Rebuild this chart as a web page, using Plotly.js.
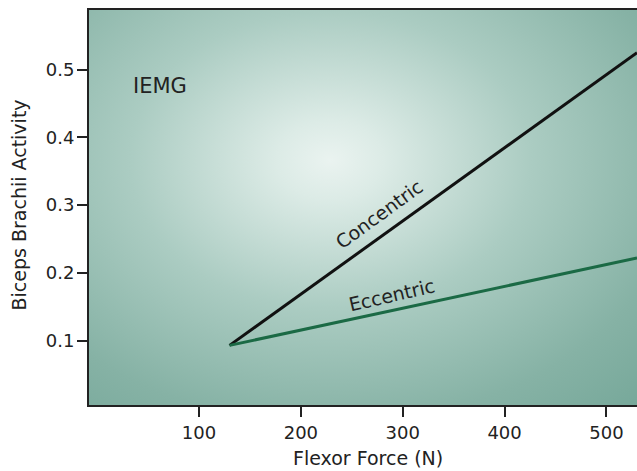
<!DOCTYPE html>
<html>
<head>
<meta charset="utf-8">
<script src="https://cdn.plot.ly/plotly-3.0.1.min.js"></script>
<style>
html,body{margin:0;padding:0;background:#fff;}
#chart{width:637px;height:471px;}
</style>
</head>
<body>
<div id="chart"></div>
<script>
// Data
const flexorForce = [130, 530];
const concentric = [0.093, 0.525];
const eccentric = [0.093, 0.222];
const xTicks = [100, 200, 300, 400, 500];
const yTicks = [0.1, 0.2, 0.3, 0.4, 0.5];

// Radial gradient background for the plot area
function makeBackground() {
  const w = 548, h = 395;
  const c = document.createElement('canvas');
  c.width = w; c.height = h;
  const ctx = c.getContext('2d');
  ctx.fillStyle = '#78a99b';
  ctx.fillRect(0, 0, w, h);
  const cx = 0.44 * w, cy = 0.38 * h;
  ctx.save();
  ctx.translate(cx, cy);
  ctx.scale(1.35, 1);
  const g = ctx.createRadialGradient(0, 0, 0, 0, 0, 330);
  g.addColorStop(0, '#eaf3f0');
  g.addColorStop(0.12, '#dcebe6');
  g.addColorStop(0.45, '#abccc2');
  g.addColorStop(0.8, '#86b2a5');
  g.addColorStop(1, '#78a99b');
  ctx.fillStyle = g;
  ctx.fillRect(-w * 2, -h * 2, w * 4, h * 4);
  ctx.restore();
  return c.toDataURL('image/png');
}

const font = 'DejaVu Sans, Arial, sans-serif';
const textColor = '#222';

const traces = [
  {
    x: flexorForce, y: concentric, type: 'scatter', mode: 'lines',
    name: 'Concentric', line: {color: '#111111', width: 3}
  },
  {
    x: flexorForce, y: eccentric, type: 'scatter', mode: 'lines',
    name: 'Eccentric', line: {color: '#1b6a45', width: 3}
  }
];

const layout = {
  width: 637, height: 471,
  margin: {l: 89, r: 0, t: 10, b: 66},
  paper_bgcolor: '#ffffff',
  plot_bgcolor: 'rgba(0,0,0,0)',
  showlegend: false,
  font: {family: font, color: textColor, size: 18},
  xaxis: {
    range: [-8, 530],
    tickvals: xTicks,
    ticktext: xTicks.map(String),
    ticks: 'outside', ticklen: 10, tickwidth: 2, tickcolor: '#222',
    showline: true, linecolor: '#222', linewidth: 2, mirror: true,
    showgrid: false, zeroline: false,
    tickfont: {family: font, size: 18, color: textColor}
  },
  yaxis: {
    range: [0.005, 0.588],
    tickvals: yTicks,
    ticktext: yTicks.map(v => v.toFixed(1)),
    ticks: 'outside', ticklen: 10, tickwidth: 2, tickcolor: '#222',
    ticklabelstandoff: -1,
    showline: true, linecolor: '#222', linewidth: 2,
    showgrid: false, zeroline: false,
    tickfont: {family: font, size: 18, color: textColor}
  },
  images: [{
    source: makeBackground(),
    xref: 'paper', yref: 'paper',
    x: 0, y: 1, sizex: 1, sizey: 1,
    xanchor: 'left', yanchor: 'top',
    sizing: 'stretch', layer: 'below'
  }],
  annotations: [
    {x: 0.5, y: 0, xref: 'paper', yref: 'paper', xanchor: 'center', yanchor: 'middle',
     xshift: 5, yshift: -53, text: 'Flexor Force (N)', showarrow: false,
     font: {family: font, size: 19, color: textColor}},
    {x: 0, y: 0.5, xref: 'paper', yref: 'paper', xanchor: 'center', yanchor: 'middle',
     xshift: -71, yshift: 2, textangle: -90, text: 'Biceps Brachii Activity', showarrow: false,
     font: {family: font, size: 19, color: textColor}},
    {x: 62, y: 0.476, xref: 'x', yref: 'y', text: 'IEMG', showarrow: false,
     font: {family: font, size: 21, color: textColor}},
    {x: 277, y: 0.287, xref: 'x', yref: 'y', text: 'Concentric', showarrow: false,
     textangle: -36, font: {family: font, size: 19, color: textColor}},
    {x: 289, y: 0.167, xref: 'x', yref: 'y', text: 'Eccentric', showarrow: false,
     textangle: -13, font: {family: font, size: 19, color: textColor}}
  ]
};

Plotly.newPlot('chart', traces, layout, {displayModeBar: false, staticPlot: true});
</script>
</body>
</html>
